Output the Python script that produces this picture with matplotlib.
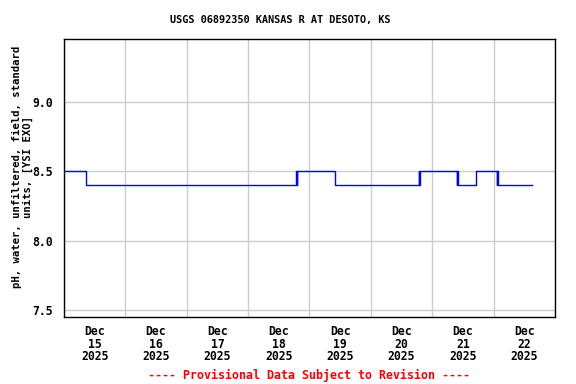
import matplotlib
matplotlib.use("Agg")
from matplotlib import pyplot as plt
import matplotlib.dates as mdates
import pandas as pd

# change points of the pH record (value holds until next time)
times = ["2025-12-15 00:00", "2025-12-15 08:45", "2025-12-18 18:45",
         "2025-12-18 19:00", "2025-12-18 19:15", "2025-12-19 10:00",
         "2025-12-20 18:45", "2025-12-20 19:00", "2025-12-20 19:15",
         "2025-12-21 09:30", "2025-12-21 09:45", "2025-12-21 10:00",
         "2025-12-21 17:00", "2025-12-22 01:15", "2025-12-22 01:30",
         "2025-12-22 01:45", "2025-12-22 15:00"]
ph = [8.5, 8.4, 8.5,
      8.4, 8.5, 8.4,
      8.5, 8.4, 8.5,
      8.4, 8.5, 8.4,
      8.5, 8.4, 8.5,
      8.4, 8.4]

yticks = [7.5, 8.0, 8.5, 9.0]
title = "USGS 06892350 KANSAS R AT DESOTO, KS"
ylabel = "pH, water, unfiltered, field, standard\nunits, [YSI EXO]"
footer = "---- Provisional Data Subject to Revision ----"

t = pd.to_datetime(times)

fnt = "DejaVu Sans Mono"
fig = plt.figure(figsize=(5.76, 3.84), dpi=100)
ax = fig.add_axes([0.1111, 0.1745, 0.8524, 0.7239])

ax.plot(t, ph, color="#0000ff", lw=1, drawstyle="steps-post")

ax.set_xlim(pd.Timestamp("2025-12-15"), pd.Timestamp("2025-12-23"))
ax.set_ylim(7.45, 9.45)

ax.xaxis.set_major_locator(mdates.DayLocator())
ax.xaxis.set_major_formatter(plt.NullFormatter())
ax.xaxis.set_minor_locator(mdates.HourLocator(byhour=[12]))
ax.xaxis.set_minor_formatter(mdates.DateFormatter("%b\n%d\n%Y"))
ax.tick_params(axis="x", which="both", length=0, pad=6)
ax.tick_params(axis="y", length=0, pad=8)
ax.set_yticks(yticks)
ax.set_yticklabels(["%.1f" % v for v in yticks])
for lab in ax.get_xticklabels(minor=True) + ax.get_yticklabels():
    lab.set_fontfamily(fnt)
    lab.set_fontweight("bold")
    lab.set_fontsize(8.3)
for lab in ax.get_xticklabels(minor=True):
    lab.set_linespacing(0.95)
ax.grid(True, which="major", color="#cccccc", lw=1)
ax.set_axisbelow(True)
for s in ax.spines.values():
    s.set_linewidth(1)

fig.text(280.5 / 576, 1 - 20 / 384, title, family=fnt, weight="bold",
         fontsize=7.4, ha="center", va="center")
ax.set_ylabel(ylabel, family=fnt, weight="bold", fontsize=7.7,
              linespacing=1.0)
ax.yaxis.set_label_coords(-0.064, 0.54)
fig.text(309.5 / 576, 1 - 375 / 384, footer, color="red", family=fnt,
         weight="bold", fontsize=8.4, ha="center", va="center")

fig.savefig("out.png", dpi=100)
